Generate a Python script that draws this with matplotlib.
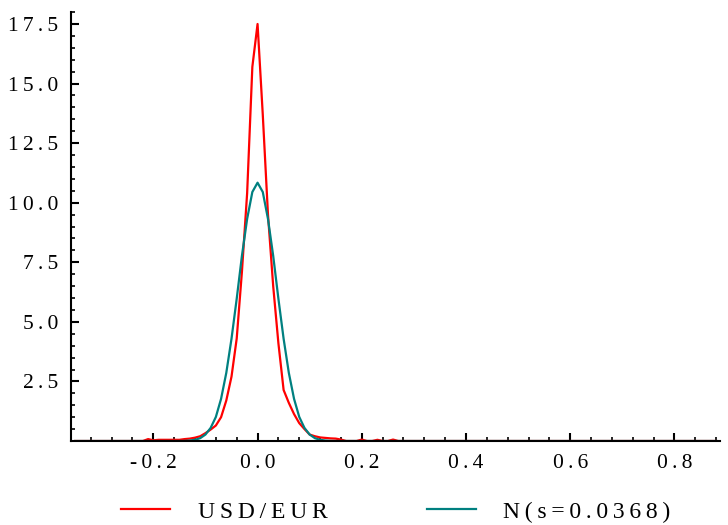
import matplotlib
matplotlib.use("Agg")
import matplotlib.pyplot as plt
from matplotlib.ticker import FixedLocator, MultipleLocator

plt.rcParams['font.family'] = 'Liberation Serif'

# grid of returns (same for both curves)
x_vals = [-0.35, -0.25, -0.22, -0.21, -0.20, -0.19, -0.18, -0.17, -0.16, -0.15,
          -0.14, -0.13, -0.12, -0.11, -0.10, -0.09, -0.08, -0.07, -0.06, -0.05,
          -0.04, -0.03, -0.02, -0.01, 0.00, 0.01, 0.02, 0.03, 0.04, 0.05,
          0.06, 0.07, 0.08, 0.09, 0.10, 0.11, 0.12, 0.13, 0.14, 0.15,
          0.16, 0.17, 0.18, 0.19, 0.20, 0.21, 0.22, 0.23, 0.24, 0.25,
          0.26, 0.27, 0.30, 0.88]

# empirical density USD/EUR
usd_eur = [0.0, 0.0, 0.0, 0.08, 0.03, 0.05, 0.05, 0.05, 0.05, 0.05,
           0.08, 0.10, 0.14, 0.20, 0.33, 0.48, 0.65, 1.0, 1.7, 2.7,
           4.3, 7.1, 10.4, 15.7, 17.5, 13.7, 9.5, 6.5, 4.1, 2.14,
           1.6, 1.13, 0.75, 0.5, 0.27, 0.2, 0.15, 0.13, 0.11, 0.1,
           0.06, 0.0, 0.0, 0.0, 0.06, 0.0, 0.0, 0.05, 0.0, 0.0,
           0.06, 0.0, 0.0, 0.0]

# normal density, s = 0.0368
normal = [0.0, 0.0, 0.0, 0.0, 0.0, 0.0, 0.0, 0.0, 0.0, 0.0,
          0.005, 0.02, 0.05, 0.12, 0.27, 0.55, 1.01, 1.77, 2.86, 4.29,
          5.97, 7.77, 9.32, 10.45, 10.84, 10.45, 9.32, 7.77, 5.97, 4.29,
          2.86, 1.77, 1.01, 0.55, 0.27, 0.12, 0.05, 0.02, 0.005, 0.0,
          0.0, 0.0, 0.0, 0.0, 0.0, 0.0, 0.0, 0.0, 0.0, 0.0,
          0.0, 0.0, 0.0, 0.0]

x_ticks = [-0.2, 0.0, 0.2, 0.4, 0.6, 0.8]
x_labels = ["-0 .2", "0 .0", "0 .2", "0 .4", "0 .6", "0 .8"]
y_ticks = [2.5, 5.0, 7.5, 10.0, 12.5, 15.0, 17.5]
y_labels = ["2.5", "5.0", "7.5", "10.0", "12.5", "15.0", "17.5"]


def spaced(s):
    # Maple-like letter spacing
    return "\u2009".join(s.replace(" ", ""))


fig = plt.figure(figsize=(7.28, 5.25), dpi=100)
ax = fig.add_axes([0.0975, 0.16, 0.892, 0.817])

ax.plot(x_vals, usd_eur, color='#ff0000', lw=1.6, label=spaced("USD/EUR"))
ax.plot(x_vals, normal, color='#008080', lw=1.6, label=spaced("N(s=0.0368)"))

ax.set_xlim(-0.358, 0.888)
ax.set_ylim(0, 18.0)

ax.spines['top'].set_visible(False)
ax.spines['right'].set_visible(False)
ax.spines['left'].set_linewidth(1.5)
ax.spines['bottom'].set_linewidth(1.5)

ax.xaxis.set_major_locator(FixedLocator(x_ticks))
ax.set_xticklabels([spaced(l) for l in x_labels])
ax.xaxis.set_minor_locator(MultipleLocator(0.04))
ax.yaxis.set_major_locator(FixedLocator(y_ticks))
ax.set_yticklabels([spaced(l) for l in y_labels])
ax.yaxis.set_minor_locator(MultipleLocator(0.5))

ax.tick_params(which='major', direction='in', length=6, width=1.5,
               labelsize=15.5, pad=9)
ax.tick_params(which='minor', direction='in', length=3, width=1.2)

ax.legend(loc='center', bbox_to_anchor=(0.5, -0.165), ncol=2, frameon=False,
          fontsize=17, handlelength=2.1, handletextpad=1.15, columnspacing=4.2)

plt.savefig("out.png", dpi=100)
